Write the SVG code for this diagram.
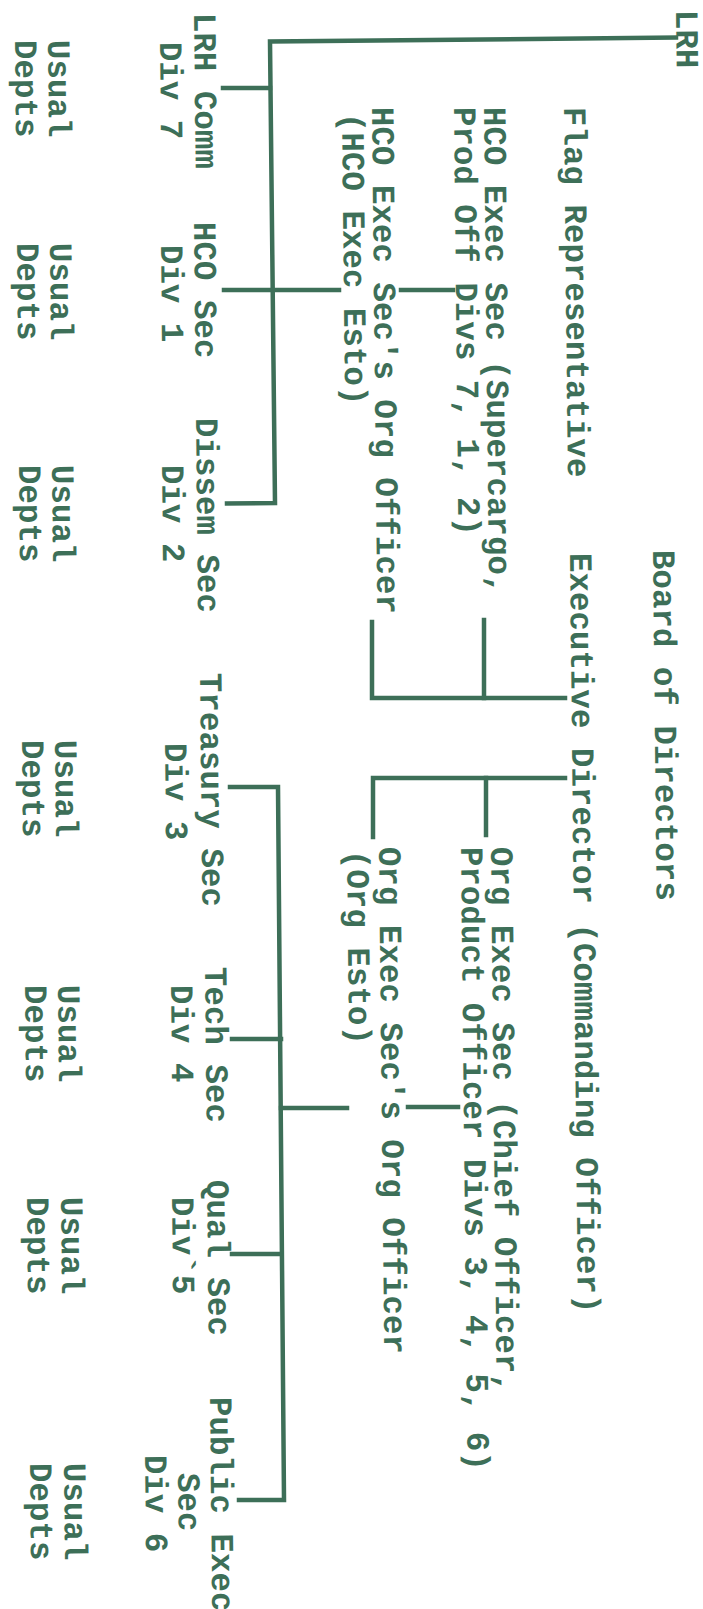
<svg xmlns="http://www.w3.org/2000/svg" width="703" height="1609" viewBox="0 0 703 1609">
<style>
text{font-family:"Liberation Mono","DejaVu Sans Mono",monospace;font-size:32.5px;font-weight:bold;fill:#3d6f58}
.c line,.c polyline{stroke:#3d6f58;stroke-width:4.5;fill:none;stroke-linecap:square;stroke-linejoin:miter}
</style>
<rect width="703" height="1609" fill="#ffffff"/>
<g class="c" id="connectors">
<polyline points="676,37.5 270,41.5 275,503 227,503.5"/>
<line x1="223" y1="88" x2="270" y2="88"/>
<line x1="224" y1="290" x2="339" y2="290"/>
<line x1="401" y1="290" x2="453" y2="290"/>
<polyline points="372,622 372,698 565,698"/>
<line x1="484" y1="620" x2="484" y2="698"/>
<polyline points="373,837 373,778 565,778"/>
<line x1="486" y1="778" x2="486" y2="835"/>
<polyline points="230,787 278,787 284,1500 239,1500"/>
<line x1="232" y1="1039" x2="281" y2="1039"/>
<line x1="281" y1="1108" x2="347" y2="1108"/>
<line x1="408" y1="1107" x2="458" y2="1107"/>
<line x1="232" y1="1254" x2="280" y2="1254"/>
</g>
<g id="lrh"><text transform="translate(676,10) rotate(89.4)">LRH</text></g>
<g id="board"><text transform="translate(653,550) rotate(89.4)">Board of Directors</text></g>
<g id="flag"><text transform="translate(564,107) rotate(89.4)">Flag Representative</text></g>
<g id="ed"><text transform="translate(570,553) rotate(89.4)">Executive Director (Commanding Officer)</text></g>
<g id="hco-exec-sec">
<text transform="translate(484,107) rotate(89.4)">HCO Exec Sec (Supercargo,</text>
<text transform="translate(454,107) rotate(89.4)">Prod Off Divs 7, 1, 2)</text>
</g>
<g id="hco-es-oo">
<text transform="translate(372,107) rotate(89.4)">HCO Exec Sec's Org Officer</text>
<text transform="translate(342,113) rotate(89.4)">(HCO Exec Esto)</text>
</g>
<g id="org-exec-sec">
<text transform="translate(491,847) rotate(89.4)">Org Exec Sec (Chief Officer,</text>
<text transform="translate(461,847) rotate(89.4)">Product Officer Divs 3, 4, 5, 6)</text>
</g>
<g id="org-es-oo">
<text transform="translate(379,847) rotate(89.4)">Org Exec Sec's Org Officer</text>
<text transform="translate(347,850) rotate(89.4)">(Org Esto)</text>
</g>
<g id="div7">
<text transform="translate(194,13) rotate(89.4)">LRH Comm</text>
<text transform="translate(160,42) rotate(89.4)">Div 7</text>
</g>
<g id="div1">
<text transform="translate(194,222) rotate(89.4)">HCO Sec</text>
<text transform="translate(161,245) rotate(89.4)">Div 1</text>
</g>
<g id="div2">
<text transform="translate(196,418) rotate(89.4)">Dissem Sec</text>
<text transform="translate(162,465) rotate(89.4)">Div 2</text>
</g>
<g id="div3">
<text transform="translate(200,673) rotate(89.4)">Treasury Sec</text>
<text transform="translate(165,743) rotate(89.4)">Div 3</text>
</g>
<g id="div4">
<text transform="translate(205,967) rotate(89.4)">Tech Sec</text>
<text transform="translate(171,985) rotate(89.4)">Div 4</text>
</g>
<g id="div5">
<text transform="translate(207,1180) rotate(89.4)">Qual Sec</text>
<text transform="translate(172,1197) rotate(89.4)">Div`5</text>
</g>
<g id="div6">
<text transform="translate(210,1397) rotate(89.4)">Public Exec</text>
<text transform="translate(178,1473) rotate(89.4)">Sec</text>
<text transform="translate(145,1455) rotate(89.4)">Div 6</text>
</g>
<g id="depts7"><text transform="translate(48,40) rotate(89.4)">Usual</text><text transform="translate(15,40) rotate(89.4)">Depts</text></g>
<g id="depts1"><text transform="translate(50,243) rotate(89.4)">Usual</text><text transform="translate(17,243) rotate(89.4)">Depts</text></g>
<g id="depts2"><text transform="translate(52,465) rotate(89.4)">Usual</text><text transform="translate(19,465) rotate(89.4)">Depts</text></g>
<g id="depts3"><text transform="translate(55,740) rotate(89.4)">Usual</text><text transform="translate(22,740) rotate(89.4)">Depts</text></g>
<g id="depts4"><text transform="translate(58,985) rotate(89.4)">Usual</text><text transform="translate(25,985) rotate(89.4)">Depts</text></g>
<g id="depts5"><text transform="translate(61,1197) rotate(89.4)">Usual</text><text transform="translate(27,1197) rotate(89.4)">Depts</text></g>
<g id="depts6"><text transform="translate(64,1463) rotate(89.4)">Usual</text><text transform="translate(30,1463) rotate(89.4)">Depts</text></g>
</svg>
